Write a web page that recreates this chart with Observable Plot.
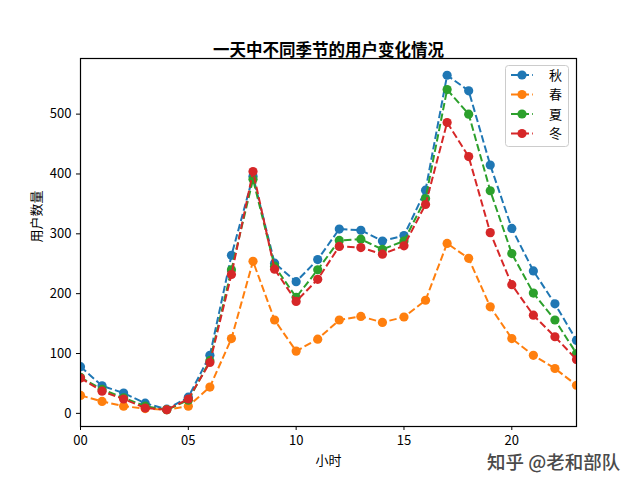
<!DOCTYPE html>
<html>
<head>
<meta charset="utf-8">
<script src="https://cdn.jsdelivr.net/npm/d3@7"></script>
<script src="https://cdn.jsdelivr.net/npm/@observablehq/plot@0.6"></script>
<style>
  html, body { margin: 0; padding: 0; background: white; }
  #wrap { position: relative; width: 640px; height: 480px; font-family: 'Noto Sans CJK SC', sans-serif; }
  #legend { position: absolute; left: 505px; top: 65px; }
  #mark { position: absolute; left: 487px; top: 449px; font-size: 18.5px; color: #4a4a4a; font-weight: 500;
          text-shadow: 0 0 2px #fff, 0 0 2px #fff, 0 0 1px #fff; white-space: nowrap; line-height: 24px; }
</style>
</head>
<body>
<div id="wrap"></div>
<script>
// ---- data ----
const hours = [0,1,2,3,4,5,6,7,8,9,10,11,12,13,14,15,16,17,18,19,20,21,22,23];
const seriesNames = ["秋", "春", "夏", "冬"];
const autumn = [78,46,34,17,7,27,97,264,396,251,220,257,308,306,288,297,373,565,539,415,309,238,183,122];
const spring = [30,20,12,8,6,12,44,125,254,156,104,124,156,162,152,161,189,284,259,178,125,97,75,47];
const summer = [60,40,26,12,6,22,88,240,391,246,194,240,289,291,274,288,359,541,500,372,267,201,156,100];
const winter = [59,37,24,9,6,24,85,232,404,241,187,224,279,277,266,280,349,486,429,302,215,164,128,90];
const xTicks = [0,5,10,15,20];
const yTicks = [0,100,200,300,400,500];
const colors = ["#1f77b4", "#ff7f0e", "#2ca02c", "#d62728"];
const title = "一天中不同季节的用户变化情况";
const xLabel = "小时";
const yLabel = "用户数量";
const watermark = "知乎 @老和部队";

const seriesValues = [autumn, spring, summer, winter];
const rows = seriesNames.map((name, i) => hours.map((h, j) => ({season: name, hour: h, value: seriesValues[i][j]})));
const all = rows.flat();
const vmin = d3.min(all, d => d.value), vmax = d3.max(all, d => d.value);
const pad = (vmax - vmin) * 0.05;

const dash = "7.4,3.2";
const seriesMarks = rows.flatMap(r => [
  Plot.line(r, {x: "hour", y: "value", stroke: "season", strokeWidth: 2, strokeDasharray: dash, strokeLinecap: "butt", clip: true}),
  Plot.dot(r, {x: "hour", y: "value", fill: "season", r: 4.6, stroke: "none", clip: true})
]);

const chart = Plot.plot({
  width: 640,
  height: 480,
  marginLeft: 80,
  marginRight: 64,
  marginTop: 58,
  marginBottom: 54,
  style: {fontFamily: "'Noto Sans CJK SC', sans-serif", fontSize: "13px", background: "white", color: "black"},
  x: {domain: [0, 23]},
  y: {domain: [vmin - pad, vmax + pad]},
  color: {domain: seriesNames, range: colors},
  marks: [
    ...seriesMarks,
    Plot.frame({stroke: "black", strokeWidth: 1.2}),
    Plot.axisX({ticks: xTicks, tickFormat: d => String(d).padStart(2, "0"), tickSize: 4, tickPadding: 5, label: null, fontSize: 13}),
    Plot.axisY({ticks: yTicks, tickSize: 4, tickPadding: 5, label: null, fontSize: 13}),
    Plot.text([title], {frameAnchor: "top", dy: -14, fontSize: 16.5, fontWeight: "bold", text: d => d}),
    Plot.text([xLabel], {frameAnchor: "bottom", dy: 38, fontSize: 13, text: d => d}),
    Plot.text([yLabel], {frameAnchor: "left", dx: -44, rotate: -90, fontSize: 13, text: d => d})
  ]
});
const wrap = document.getElementById("wrap");
wrap.appendChild(chart);

// legend (matplotlib style box)
const lw = 64, lh = 82;
const leg = d3.create("svg").attr("width", lw).attr("height", lh);
leg.append("rect").attr("x", 0.5).attr("y", 0.5).attr("width", lw - 1).attr("height", lh - 1)
  .attr("rx", 3).attr("fill", "white").attr("fill-opacity", 0.8).attr("stroke", "#ccc");
seriesNames.forEach((name, i) => {
  const cy = 10 + i * 19.5;
  const g = leg.append("g");
  g.append("line").attr("x1", 6).attr("x2", 28).attr("y1", cy).attr("y2", cy)
    .attr("stroke", colors[i]).attr("stroke-width", 2).attr("stroke-dasharray", dash);
  g.append("circle").attr("cx", 17).attr("cy", cy).attr("r", 4.6).attr("fill", colors[i]);
  g.append("text").attr("x", 44).attr("y", cy).attr("dy", "0.35em").attr("font-size", 13)
    .attr("font-family", "'Noto Sans CJK SC', sans-serif").text(name);
});
const legDiv = document.createElement("div");
legDiv.id = "legend";
legDiv.appendChild(leg.node());
wrap.appendChild(legDiv);

const wm = document.createElement("div");
wm.id = "mark";
wm.textContent = watermark;
wrap.appendChild(wm);
</script>
</body>
</html>
